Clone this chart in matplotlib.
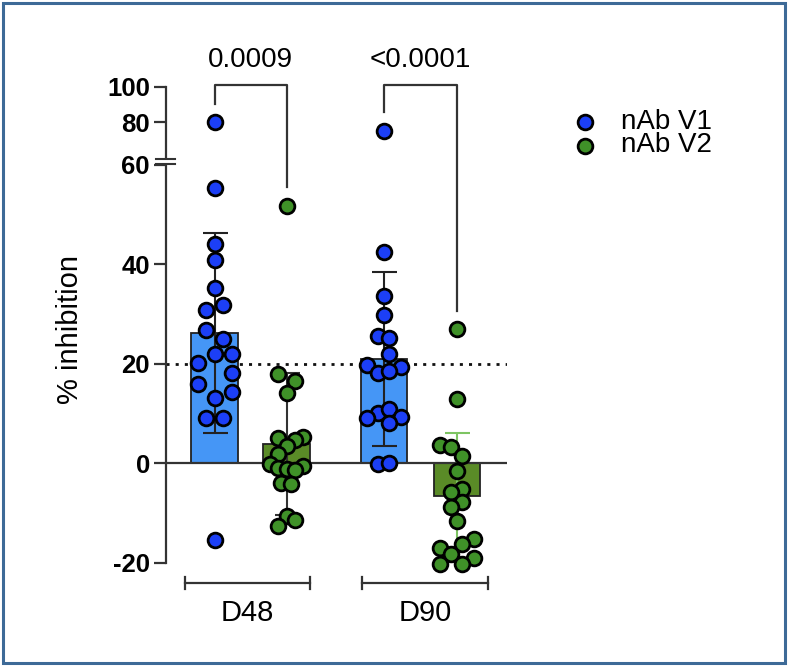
import numpy as np
import matplotlib
matplotlib.use('Agg')
import matplotlib.pyplot as plt
from matplotlib.lines import Line2D
from matplotlib.patches import Rectangle
import matplotlib.transforms as mtrans
from matplotlib.ticker import FuncFormatter

plt.rcParams['font.family'] = ['Liberation Sans', 'DejaVu Sans']

# ---------------- data ----------------
groups = ['D48', 'D90']
series = ['nAb V1', 'nAb V2']
p_values = ['0.0009', '<0.0001']

d48_v1 = [80.0, 55.2, 44.0, 40.8, 35.3, 31.8, 30.8, 26.7, 24.9, 22.0, 22.0,
          20.2, 18.2, 16.0, 14.3, 13.1, 9.2, 9.2, -15.3]
d48_v2 = [51.7, 17.9, 16.5, 14.2, 5.1, 5.3, 4.6, 3.4, 1.8, -0.1, -0.9, -0.6,
          -1.1, -1.3, -3.9, -4.2, -10.5, -11.3, -12.5]
d90_v1 = [75.0, 42.5, 33.6, 29.8, 25.5, 25.1, 22.0, 19.8, 19.4, 18.2, 18.6,
          10.1, 11.0, 9.1, 9.3, 8.2, -0.1, 0.1]
d90_v2 = [26.9, 12.9, 3.6, 3.3, 1.5, -1.5, -5.1, -5.8, -7.8, -8.8, -11.6,
          -15.1, -16.1, -17.0, -18.2, -19.0, -20.2, -20.3]

# swarm slots (horizontal dot layout, in half-dot widths)
d48_v1_slot = [0, 0, 0, 0, 0, 1, -1, -1, 1, 0, 2, -2, 2, -2, 2, 0, -1, 1, 0]
d48_v2_slot = [0, -1, 1, 0, -1, 2, 1, 0, -1, -2, -1, 2, 0, 1, -0.6, 0.5, 0, 1, -1]
d90_v1_slot = [0, 0, 0, 0, -0.7, 0.6, 0.6, -2, 2, -0.7, 0.6, -0.7, 0.6, -2, 2,
               0.6, -0.7, 0.6]
d90_v2_slot = [0, 0, -2, -0.7, 0.6, 0, 0.6, -0.7, 0.6, -0.7, 0, 2, 0.6, -2,
               -0.7, 2, -2, 0.6]

data = [d48_v1, d48_v2, d90_v1, d90_v2]
slots = [d48_v1_slot, d48_v2_slot, d90_v1_slot, d90_v2_slot]

# ---------------- style ----------------
bar_fill = ['#4596f6', '#5a8b27', '#4596f6', '#5a8b27']
dot_fill = ['#1c3ff6', '#3f9128', '#1c3ff6', '#3f9128']
err_col = ['#222222', '#333333', '#222222', '#7dc462']
legend_fill = ['#1c3ff6', '#3f9128']

positions = [0.0, 1.0, 2.354, 3.368]
group_pad = [(-0.41, 0.33), (-0.305, 0.43)]
bar_w = 0.65
slot_w = 0.118
MS, MEW = 10.6, 2.0
W, H = 789, 667


def fx(px):
    return px / W


def fy(py):
    return 1 - py / H


fig = plt.figure(figsize=(W / 100, H / 100), dpi=100)

ax = fig.add_axes([fx(166), fy(563), fx(507) - fx(166), fy(164.5) - fy(563)])
axu = fig.add_axes([fx(166), fy(157), fx(507) - fx(166), fy(87) - fy(157)])

fmt = FuncFormatter(lambda v, p: f'{v:.0f}'.replace('\u2212', '-'))
xlim = (-0.674, 4.063)
for a in (ax, axu):
    a.set_xlim(*xlim)
    a.patch.set_alpha(0)
    for s in ('top', 'right', 'bottom'):
        a.spines[s].set_visible(False)
    a.spines['left'].set_color('#333333')
    a.spines['left'].set_linewidth(1.6)
    a.set_xticks([])
    a.yaxis.set_major_formatter(fmt)
    a.tick_params(axis='y', length=8.6, width=1.6, color='#333333',
                  labelsize=18.5, pad=3)

ax.set_ylim(-20, 60)
axu.set_ylim(60, 100)
ax.set_yticks([-20, 0, 20, 40, 60])
axu.set_yticks([80, 100])
for a in (ax, axu):
    for lab in a.get_yticklabels():
        lab.set_fontweight('bold')

# bars + error bars + dots
for i, (vals, sl) in enumerate(zip(data, slots)):
    v = np.array(vals)
    m = v.mean()
    sd = v.std(ddof=1)
    ax.bar(positions[i], m, width=bar_w, color=bar_fill[i],
           edgecolor='#222222', linewidth=1.3, zorder=2)
    ax.errorbar(positions[i], m, yerr=sd, fmt='none', ecolor=err_col[i],
                elinewidth=1.5, capsize=9, capthick=1.5, zorder=3)
    xs = positions[i] + np.array(sl) * slot_w
    low = v < 60
    ax.plot(xs[low], v[low], 'o', ms=MS, mfc=dot_fill[i], mec='black',
            mew=MEW, ls='none', zorder=5, clip_on=False)
    axu.plot(xs[~low], v[~low], 'o', ms=MS, mfc=dot_fill[i], mec='black',
             mew=MEW, ls='none', zorder=5, clip_on=False)

# zero line and threshold line
ax.axhline(0, color='#333333', lw=1.6, zorder=2.5)
ax.axhline(20, color='#111111', lw=2.0, dashes=(1.1, 2.2), zorder=1.5)

# axis break marks
for py in (159, 164):
    fig.add_artist(Line2D([fx(156), fx(175)], [fy(py), fy(py)],
                          color='#333333', lw=1.5))

# group brackets under the axis
trans = mtrans.blended_transform_factory(ax.transData, ax.transAxes)
yb = (563 - 583) / (563 - 164.5)
tk = 6 / (563 - 164.5)
for g, name in enumerate(groups):
    x0 = positions[2 * g] + group_pad[g][0]
    x1 = positions[2 * g + 1] + group_pad[g][1]
    ax.plot([x0, x1], [yb, yb], color='#333333', lw=1.6, transform=trans,
            clip_on=False)
    for xe in (x0, x1):
        ax.plot([xe, xe], [yb - tk, yb + tk], color='#333333', lw=1.6,
                transform=trans, clip_on=False)
    ax.text((x0 + x1) / 2, (563 - 613) / (563 - 164.5), name, transform=trans,
            ha='center', va='center', fontsize=21)

# significance brackets
inv = fig.transFigure.inverted()


def top_point(i):
    v = np.array(data[i])
    mx = v.max()
    a = axu if mx >= 60 else ax
    p = inv.transform(a.transData.transform((positions[i], mx)))
    return p[0], p[1] + 18.5 / H


top_y = fy(85)
for g in range(2):
    xl, yl = top_point(2 * g)
    xr, yr = top_point(2 * g + 1)
    fig.add_artist(Line2D([xl, xl, xr, xr], [yl, top_y, top_y, yr],
                          color='#333333', lw=1.6))
    fig.text((xl + xr) / 2, fy(60), p_values[g], ha='center', va='center',
             fontsize=20)

# y label
fig.text(fx(70), fy(329), '% inhibition', rotation=90, ha='center',
         va='center', fontsize=21)

# legend
for i, name in enumerate(series):
    fig.add_artist(Line2D([fx(585)], [fy(122 + 23.5 * i)], marker='o', ms=MS,
                          mfc=legend_fill[i], mec='black', mew=MEW, ls='none'))
    fig.text(fx(621), fy(122 + 23.5 * i), name, ha='left', va='center',
             fontsize=20)

# outer frame
fig.add_artist(Rectangle((fx(3), fy(663)), fx(785) - fx(3), fy(3) - fy(663),
                         transform=fig.transFigure, fill=False,
                         edgecolor='#3d6a97', lw=2.2))

fig.savefig('out.png', dpi=100)
